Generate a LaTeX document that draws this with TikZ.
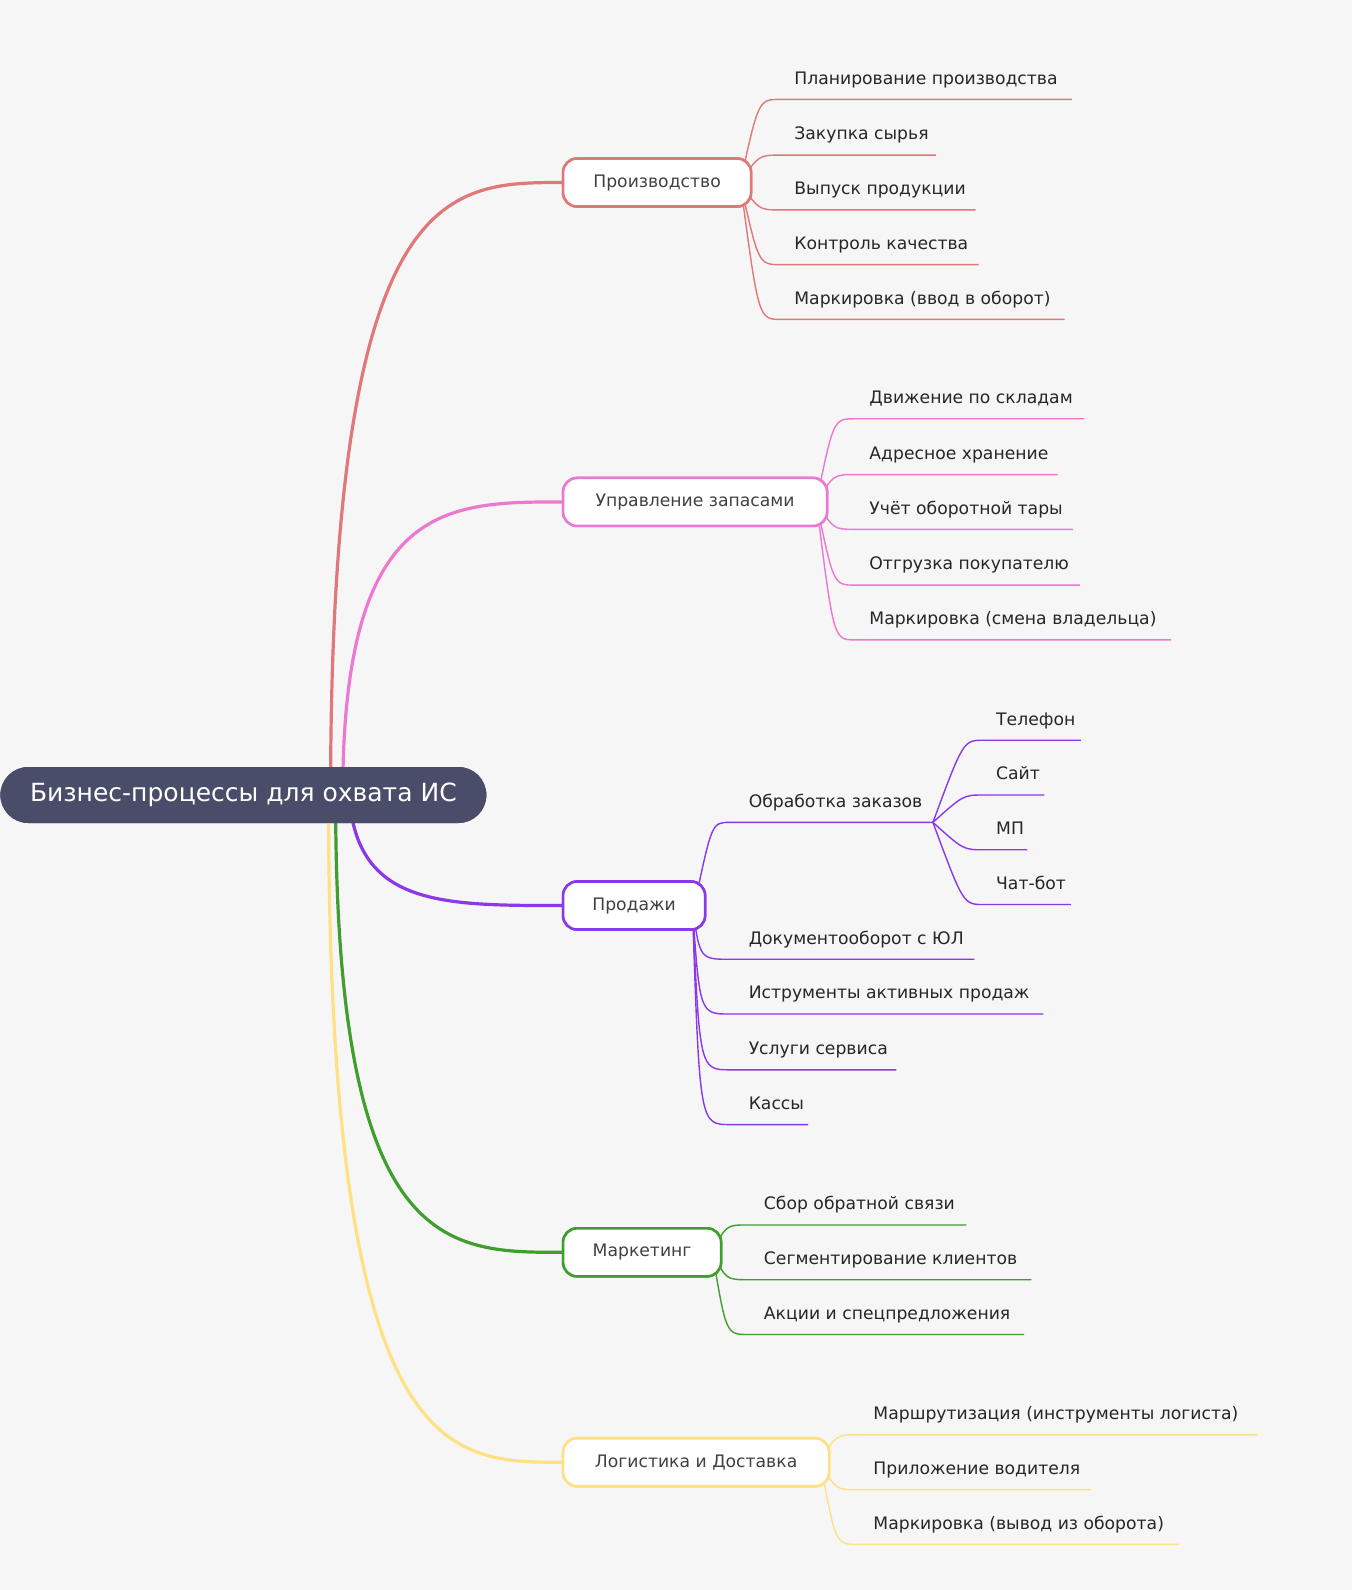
\documentclass[tikz,border=0pt]{standalone}
\usepackage{fontspec}
\setmainfont{DejaVu Sans}
\definecolor{bg}{HTML}{F6F6F6}
\definecolor{rootc}{HTML}{4A4D6A}
\definecolor{prodc}{HTML}{E07878}
\definecolor{zapc}{HTML}{EC78D2}
\definecolor{salec}{HTML}{8A38E8}
\definecolor{markc}{HTML}{3F9E2E}
\definecolor{logc}{HTML}{FFE083}
\begin{document}
\begin{tikzpicture}[x=0.507pt, y=-0.507pt,
    root node/.style={draw=none, fill=rootc, text=white, rounded corners=14pt, minimum width=243pt, minimum height=28pt, font=\fontsize{12.5}{14}\selectfont},
    branch node/.style={draw=#1, line width=1.3pt, fill=white, rounded corners=7pt, minimum height=24pt, text=black!75, font=\fontsize{8.6}{10}\selectfont, anchor=west, inner xsep=12pt},
    leaf node/.style={anchor=base west, inner sep=0pt, text=black!85, font=\fontsize{8.6}{10}\selectfont},
    main line/.style={draw=#1, line width=1.6pt},
    leaf line/.style={draw=#1, line width=0.7pt}]

    \fill[bg] (0,0) rectangle (1333,1568);

    \node[root node] (root) at (240,784) {Бизнес-процессы для охвата ИС};

    % branches
    \node[branch node=prodc, minimum width=94pt] (prod) at (554,180) {Производство};
    \node[branch node=zapc, minimum width=132pt] (zap) at (554,495) {Управление запасами};
    \node[branch node=salec, minimum width=71pt] (sale) at (554,893) {Продажи};
    \node[branch node=markc, minimum width=79pt] (mark) at (554,1235) {Маркетинг};
    \node[branch node=logc, minimum width=133pt] (logi) at (554,1442) {Логистика и Доставка};

    % root to branches
    \coordinate (r1) at (326,784);
    \coordinate (r2) at (338,784);
    \coordinate (r3) at (346,800);
    \coordinate (r4) at (331,790);
    \coordinate (r5) at (324,790);
    \begin{scope}[on background layer/.style={}]
    \draw[main line=prodc] (r1) .. controls (326,180) and (440,180) .. (prod.west);
    \draw[main line=zapc] (r2) .. controls (338,495) and (440,495) .. (zap.west);
    \draw[main line=salec] (r3) .. controls (360,893) and (440,893) .. (sale.west);
    \draw[main line=markc] (r4) .. controls (331,1235) and (440,1235) .. (mark.west);
    \draw[main line=logc] (r5) .. controls (324,1442) and (440,1442) .. (logi.west);
    \end{scope}
    \node[root node] at (root) {Бизнес-процессы для охвата ИС};

    % Производство leaves
    \foreach \ly/\ex/\txt [count=\i] in {98/1057/Планирование производства, 153/923/Закупка сырья, 207/962/Выпуск продукции, 261/965/Контроль качества, 315/1050/Маркировка (ввод в оборот)} {
        \coordinate (p\i) at (770,\ly);
        \node[leaf node] (pl\i) at (783,\ly-15) {\txt};
        \draw[leaf line=prodc] ([xshift=-6pt]prod.east) .. controls (748,\ly) .. (p\i) -- (\ex,\ly);
    }

    % Управление запасами leaves
    \foreach \ly/\ex/\txt [count=\i] in {413/1069/Движение по складам, 468/1043/Адресное хранение, 522/1058/Учёт оборотной тары, 577/1065/Отгрузка покупателю, 631/1155/Маркировка (смена владельца)} {
        \coordinate (z\i) at (843,\ly);
        \node[leaf node] (zl\i) at (857,\ly-15) {\txt};
        \draw[leaf line=zapc] ([xshift=-6pt]zap.east) .. controls (822,\ly) .. (z\i) -- (\ex,\ly);
    }

    % Продажи leaves
    \coordinate (s0) at (720,811);
    \node[leaf node] (sl0) at (738,796) {Обработка заказов};
    \draw[leaf line=salec] ([xshift=-6pt]sale.east) .. controls (702,811) .. (s0) -- (920,811);
    \coordinate (s0e) at (920,811);
    \foreach \ly/\ex/\txt [count=\i] in {730/1066/Телефон, 784/1030/Сайт, 838/1013/МП, 892/1056/Чат-бот} {
        \coordinate (o\i) at (970,\ly);
        \node[leaf node] (ol\i) at (982,\ly-15) {\txt};
        \draw[leaf line=salec] (s0e) .. controls (950,\ly) .. (o\i) -- (\ex,\ly);
    }
    \foreach \ly/\ex/\txt [count=\i] in {946/961/Документооборот с ЮЛ, 1000/1029/Иструменты активных продаж, 1055/884/Услуги сервиса, 1109/797/Кассы} {
        \coordinate (s\i) at (720,\ly);
        \node[leaf node] (sl\i) at (738,\ly-15) {\txt};
        \draw[leaf line=salec] ([xshift=-7pt]sale.east) .. controls (690,\ly) .. (s\i) -- (\ex,\ly);
    }

    % Маркетинг leaves
    \foreach \ly/\ex/\txt [count=\i] in {1208/953/Сбор обратной связи, 1262/1017/Сегментирование клиентов, 1316/1010/Акции и спецпредложения} {
        \coordinate (m\i) at (738,\ly);
        \node[leaf node] (ml\i) at (753,\ly-15) {\txt};
        \draw[leaf line=markc] ([xshift=-5pt]mark.east) .. controls (716,\ly) .. (m\i) -- (\ex,\ly);
    }

    % Логистика leaves
    \foreach \ly/\ex/\txt [count=\i] in {1415/1240/Маршрутизация (инструменты логиста), 1469/1076/Приложение водителя, 1523/1163/Маркировка (вывод из оборота)} {
        \coordinate (g\i) at (846,\ly);
        \node[leaf node] (gl\i) at (861,\ly-15) {\txt};
        \draw[leaf line=logc] ([xshift=-5pt]logi.east) .. controls (824,\ly) .. (g\i) -- (\ex,\ly);
    }

    % redraw branch boxes over lines
    \node[branch node=prodc, minimum width=94pt] at (554,180) {Производство};
    \node[branch node=zapc, minimum width=132pt] at (554,495) {Управление запасами};
    \node[branch node=salec, minimum width=71pt] at (554,893) {Продажи};
    \node[branch node=markc, minimum width=79pt] at (554,1235) {Маркетинг};
    \node[branch node=logc, minimum width=133pt] at (554,1442) {Логистика и Доставка};
\end{tikzpicture}
\end{document}
